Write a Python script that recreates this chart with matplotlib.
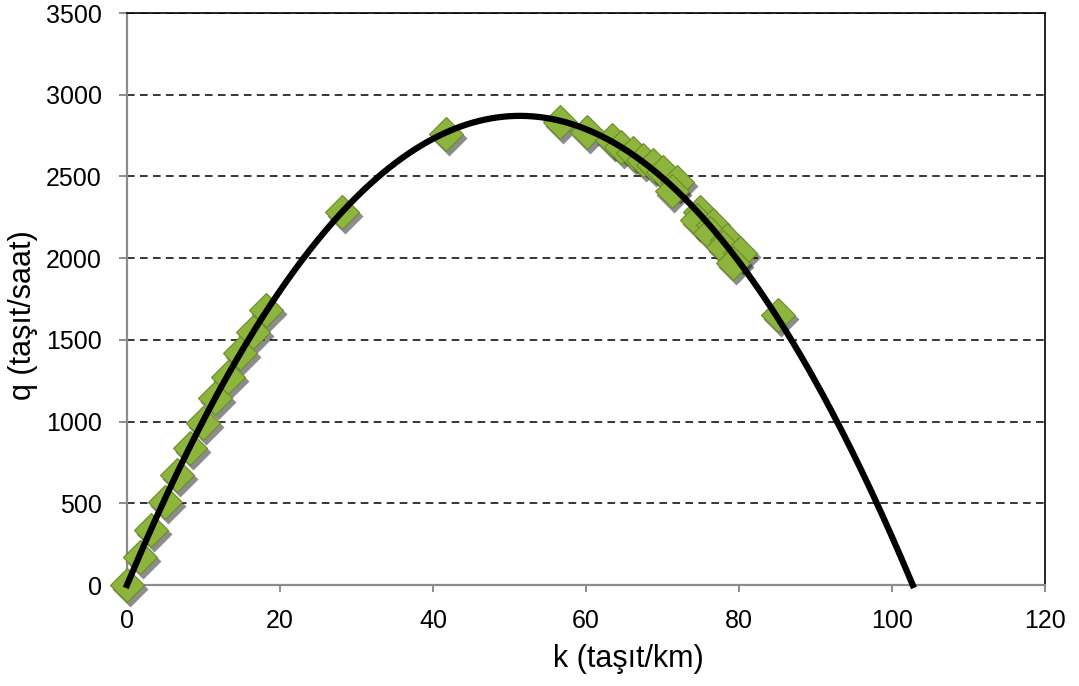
import numpy as np
import matplotlib
matplotlib.use("Agg")
from matplotlib import pyplot as plt
from matplotlib.transforms import ScaledTranslation

# observed points (k in tasit/km, q in tasit/saat)
k_obs = [0, 1.7, 3.2, 5.0, 6.5, 8.2, 10.0, 11.5, 13.2, 14.8, 16.5, 18.2,
         28.1, 41.7,
         56.6, 60.1, 63.4, 64.6, 66.2, 67.5, 68.8, 70.1, 71.9, 71.2,
         74.9, 74.5, 76.6, 76.2, 78.4, 77.9, 80.1, 79.2, 85.1]
q_obs = [0, 173, 336, 510, 673, 838, 990, 1144, 1275, 1418, 1550, 1683,
         2282, 2760,
         2835, 2774, 2723, 2682, 2643, 2600, 2570, 2529, 2468, 2410,
         2284, 2233, 2203, 2154, 2111, 2070, 2030, 1970, 1652]

# fitted trendline q = a*k - b*k^2
a_fit = 111.8
b_fit = 1.0885

plt.rcParams['font.family'] = ['Liberation Sans', 'DejaVu Sans']

fig = plt.figure(figsize=(10.79, 6.86), dpi=100)
ax = fig.add_axes([0.1177, 0.1472, 0.8508, 0.8338])

k_line = np.linspace(0, a_fit / b_fit, 400)
q_line = a_fit * k_line - b_fit * k_line ** 2

# soft shadow under the markers
shadow = ax.transData + ScaledTranslation(2 / 72, -3 / 72, fig.dpi_scale_trans)
ax.plot(k_obs, q_obs, linestyle='none', marker='D', markersize=18,
        markerfacecolor='black', markeredgecolor='none', alpha=0.45,
        transform=shadow, zorder=2, clip_on=False)
ax.plot(k_obs, q_obs, linestyle='none', marker='D', markersize=17,
        markerfacecolor='#8db43c', markeredgecolor='#6a8c28', markeredgewidth=0.8,
        zorder=3, clip_on=False)
ax.plot(k_line, q_line, color='black', linewidth=4.5, zorder=4, clip_on=False)

ax.set_xlim(0, 120)
ax.set_ylim(0, 3500)
ax.set_xticks(range(0, 121, 20))
ax.set_yticks(range(0, 3501, 500))

ax.yaxis.grid(True, linestyle=(0, (5, 3.5)), color='black', linewidth=1.1)
ax.set_axisbelow(True)

for s in ['left', 'bottom']:
    ax.spines[s].set_color('#8c8c8c')
    ax.spines[s].set_linewidth(1.6)
for s in ['top', 'right']:
    ax.spines[s].set_color('black')
    ax.spines[s].set_linewidth(1.2)

ax.tick_params(axis='y', direction='out', length=6, width=1.4, color='#8c8c8c',
               labelsize=18, pad=12)
ax.tick_params(axis='x', direction='out', length=5, width=1.4, color='#8c8c8c',
               labelsize=18, pad=12)

ax.set_xlabel('k (taşıt/km)', fontsize=22)
ax.set_ylabel('q (taşıt/saat)', fontsize=22)
ax.xaxis.set_label_coords(0.546, -0.103)
ax.yaxis.set_label_coords(-0.097, 0.472)

fig.savefig('out.png', dpi=100)
